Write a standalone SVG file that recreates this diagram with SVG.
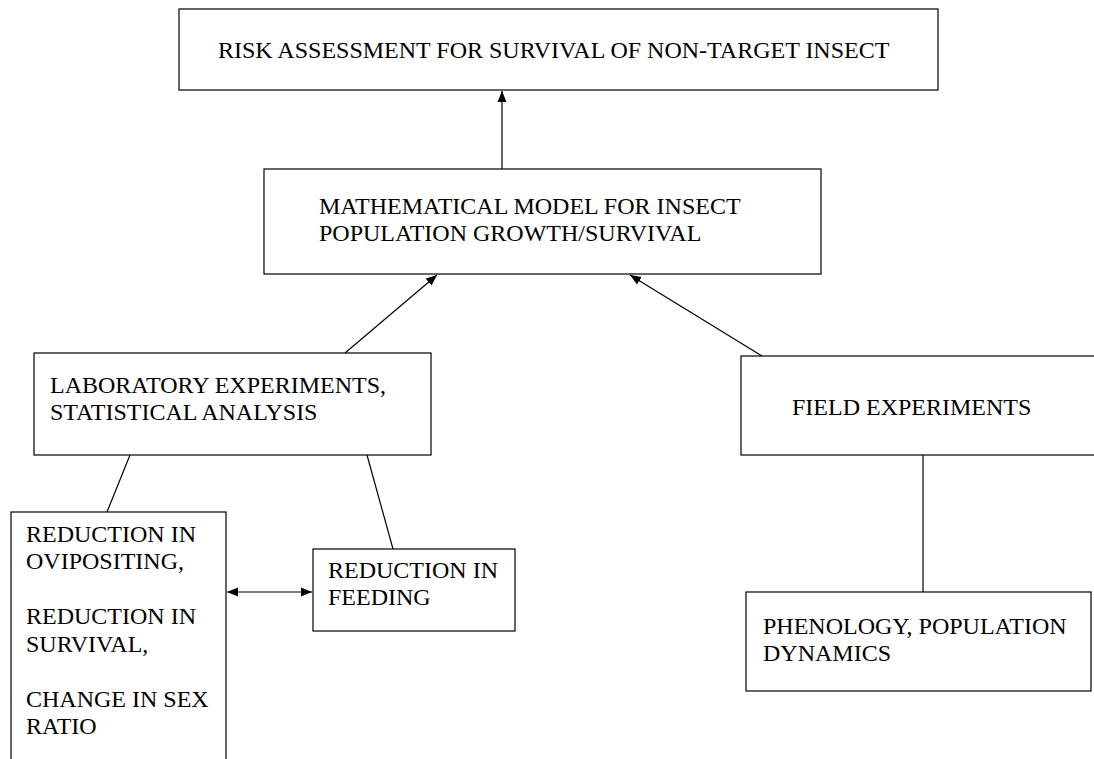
<svg xmlns="http://www.w3.org/2000/svg" width="1094" height="759" viewBox="0 0 1094 759">
<style>
.box{fill:#fff;stroke:#000;stroke-width:1.2}
.t{font-family:"Liberation Serif","Times New Roman",serif;font-size:24px;fill:#000}
.c{stroke:#000;stroke-width:1.2;fill:none}
</style>
<defs>
<marker id="ah" viewBox="0 0 11 10" refX="11" refY="5" markerWidth="11" markerHeight="10" markerUnits="userSpaceOnUse" orient="auto-start-reverse">
<path d="M0,0.5 L11,5 L0,9.5 Z" fill="#000"/>
</marker>
</defs>
<rect width="1094" height="759" fill="#fff"/>
<g id="connectors">
<line class="c" x1="502" y1="169" x2="502" y2="91" marker-end="url(#ah)"/>
<line class="c" x1="345" y1="353" x2="437" y2="275" marker-end="url(#ah)"/>
<line class="c" x1="762" y1="356" x2="630" y2="275" marker-end="url(#ah)"/>
<line class="c" x1="130" y1="455" x2="107" y2="512"/>
<line class="c" x1="367" y1="455" x2="393" y2="549"/>
<line class="c" x1="227" y1="592" x2="312" y2="592" marker-start="url(#ah)" marker-end="url(#ah)"/>
<line class="c" x1="923" y1="455" x2="923" y2="592"/>
</g>
<g id="risk">
<rect class="box" x="179" y="9" width="759" height="81"/>
<text class="t" x="218" y="58">RISK ASSESSMENT FOR SURVIVAL OF NON-TARGET INSECT</text>
</g>
<g id="model">
<rect class="box" x="264" y="169" width="557" height="105"/>
<text class="t" x="319" y="214">MATHEMATICAL MODEL FOR INSECT</text>
<text class="t" x="319" y="241">POPULATION GROWTH/SURVIVAL</text>
</g>
<g id="lab">
<rect class="box" x="34" y="353" width="397" height="102"/>
<text class="t" x="50" y="393">LABORATORY EXPERIMENTS,</text>
<text class="t" x="50" y="420">STATISTICAL ANALYSIS</text>
</g>
<g id="field">
<rect class="box" x="741" y="356" width="360" height="99"/>
<text class="t" x="792" y="415">FIELD EXPERIMENTS</text>
</g>
<g id="reductions">
<rect class="box" x="11" y="512" width="215" height="260"/>
<text class="t" x="26" y="542">REDUCTION IN</text>
<text class="t" x="26" y="569">OVIPOSITING,</text>
<text class="t" x="26" y="624">REDUCTION IN</text>
<text class="t" x="26" y="652">SURVIVAL,</text>
<text class="t" x="26" y="707">CHANGE IN SEX</text>
<text class="t" x="26" y="734">RATIO</text>
</g>
<g id="feeding">
<rect class="box" x="313" y="549" width="202" height="82"/>
<text class="t" x="328" y="578">REDUCTION IN</text>
<text class="t" x="328" y="605">FEEDING</text>
</g>
<g id="phenology">
<rect class="box" x="746" y="592" width="345" height="99"/>
<text class="t" x="763" y="634">PHENOLOGY, POPULATION</text>
<text class="t" x="763" y="661">DYNAMICS</text>
</g>
</svg>
